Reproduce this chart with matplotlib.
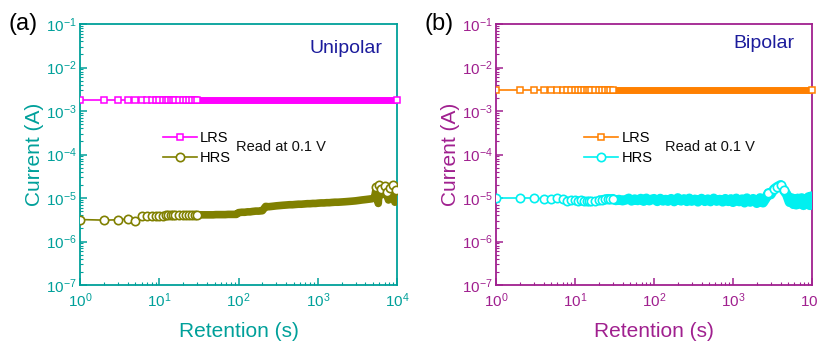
import matplotlib
matplotlib.use("Agg")
import matplotlib.pyplot as plt
from matplotlib.ticker import LogLocator, NullFormatter

plt.rcParams['font.family'] = ['Liberation Sans', 'DejaVu Sans']
plt.rcParams['mathtext.default'] = 'regular'

# ---- data ----
t = [1, 2, 3, 4, 5, 6, 7, 8, 9, 10,
     11, 12, 13, 14, 15, 16, 18, 20, 22, 24,
     26, 28, 30, 33, 36, 40, 44, 48, 52, 57,
     62, 68, 74, 80, 87, 94, 100, 110,
     120, 130, 140, 150, 165, 180, 200, 220, 240, 260, 280, 300, 330, 360, 400,
     440, 480, 520, 570, 620, 680, 740, 800, 870, 940, 1000, 1100, 1200, 1300,
     1400, 1500, 1650, 1800, 2000, 2200, 2400, 2600, 2800, 3000, 3300, 3600,
     4000, 4400, 4800, 5200, 5500, 5800, 6000, 6300, 6600, 7000, 7400, 7800,
     8200, 8600, 9000, 9400, 9800, 10000]

lrs_a = [1.8e-3] * len(t)
lrs_b = [3.0e-3] * len(t)

# HRS currents in microamperes
hrs_a_uA = [3.2, 3.1, 3.15, 3.3, 2.95, 3.8, 3.85, 3.9, 3.9, 3.95,
            3.95, 4.0, 4.0, 4.0, 4.0, 4.0, 4.0, 4.05, 4.05, 4.05,
            4.05, 4.05, 4.1, 4.1, 4.1, 4.1, 4.1, 4.1, 4.15, 4.15,
            4.15, 4.15, 4.2, 4.2, 4.2, 4.2, 4.6, 4.7,
            4.7, 4.8, 4.8, 4.9, 5.0, 5.0, 5.1, 6.4, 6.3, 6.4, 6.5, 6.6, 6.7, 6.8, 6.9,
            7.0, 7.0, 7.1, 7.2, 7.2, 7.3, 7.4, 7.4, 7.5, 7.5, 7.6, 7.7, 7.7, 7.8,
            7.8, 7.9, 8.0, 8.0, 8.1, 8.2, 8.3, 8.4, 8.5, 8.6, 8.8, 9.0,
            9.2, 9.4, 9.6, 10.0, 18.0, 7.5, 20.0, 16.0, 12.0, 19.0, 14.0, 9.0,
            17.0, 11.0, 20.0, 8.0, 15.0, 9.0]

hrs_b_uA = [10.0, 10.0, 10.0, 9.6, 9.7, 10.2, 9.5, 8.6, 8.8, 8.9,
            8.7, 8.8, 8.6, 8.7, 8.6, 8.5, 8.6, 8.8, 9.0, 9.3,
            9.6, 9.4, 9.6, 8.8, 9.2, 8.7, 9.1, 9.8, 8.6, 9.4,
            8.8, 9.7, 8.5, 9.8, 8.7, 9.3, 9.6, 8.4,
            9.7, 8.6, 9.2, 8.5, 9.6, 8.3, 10.0, 8.6, 9.5, 8.4, 9.8, 8.5, 9.3, 8.2, 9.7,
            8.4, 9.4, 8.3, 9.8, 8.5, 9.2, 8.2, 9.6, 8.4, 9.5, 8.0, 9.8, 8.3, 9.4,
            7.8, 9.9, 8.1, 9.6, 7.6, 10.0, 7.8, 9.8, 13.0, 12.0, 16.0, 18.0,
            20.0, 15.0, 12.0, 8.0, 10.0, 7.2, 9.6, 7.0, 9.8, 7.4, 10.0, 6.8,
            9.4, 7.2, 10.5, 6.8, 11.0, 7.0]

hrs_a = [v * 1e-6 for v in hrs_a_uA]
hrs_b = [v * 1e-6 for v in hrs_b_uA]

panels = [
    dict(label='(a)', title='Unipolar', axc='#00A09A', lrs=lrs_a, hrs=hrs_a,
         lrs_c='#FF00FF', hrs_c='#808000', left=80, width=317, band=5.5,
         title_xy=(0.953, 0.908), leg_x=0.262, read_x=0.492, spike=(5400, 1e9)),
    dict(label='(b)', title='Bipolar', axc='#A0208F', lrs=lrs_b, hrs=hrs_b,
         lrs_c='#FF8000', hrs_c='#00F0F0', left=496, width=316, band=7.0,
         title_xy=(0.946, 0.927), leg_x=0.28, read_x=0.535, spike=(2700, 4500)),
]

W, H = 817, 344
fig = plt.figure(figsize=(W / 100, H / 100), dpi=100)

early = [ti <= 30 for ti in t]
late_idx = [i for i, ti in enumerate(t) if ti >= 20]
t_late = [t[i] for i in late_idx]

for p in panels:
    ax = fig.add_axes([p['left'] / W, (H - 285) / H, p['width'] / W, 261 / H])
    ax.set_xscale('log')
    ax.set_yscale('log')
    ax.set_xlim(1, 1e4)
    ax.set_ylim(1e-7, 1e-1)
    c = p['axc']
    # LRS
    ax.plot(t_late, [p['lrs'][i] for i in late_idx], '-', color=p['lrs_c'],
            lw=5.0, solid_capstyle='butt', zorder=3)
    ax.plot(t, p['lrs'], '-s', color=p['lrs_c'], mfc='white', mec=p['lrs_c'],
            ms=4.5, mew=1.1, lw=1.2, label='LRS', markevery=early, zorder=4)
    ax.plot([t[-1]], [p['lrs'][-1]], 's', color=p['lrs_c'], mfc='white',
            ms=4.5, mew=1.1, clip_on=False, zorder=4)
    # HRS
    ax.plot(t_late, [p['hrs'][i] for i in late_idx], '-', color=p['hrs_c'],
            lw=p['band'], solid_joinstyle='round', solid_capstyle='butt', zorder=3)
    ax.plot(t, p['hrs'], '-o', color=p['hrs_c'], mfc='white', mec=p['hrs_c'],
            ms=6, mew=1.2, lw=1.2, label='HRS', markevery=early, zorder=4)
    lo, hi = p['spike']
    spike = [(lo <= ti <= hi) and (v > 1.25e-5) for ti, v in zip(t, p['hrs'])]
    ax.plot(t, p['hrs'], 'o', color=p['hrs_c'], mfc='white', mec=p['hrs_c'],
            ms=6, mew=1.2, markevery=spike, zorder=4)

    for s in ax.spines.values():
        s.set_color(c)
        s.set_linewidth(1.3)
    ax.tick_params(which='both', direction='in', colors=c, labelsize=11,
                   top=False, right=False)
    ax.tick_params(which='major', length=5, width=1.1)
    ax.tick_params(which='minor', length=2.5, width=0.8)
    ax.tick_params(axis='y', which='major', pad=2.5)
    ax.tick_params(axis='x', which='major', pad=4.5)
    ax.xaxis.set_major_locator(LogLocator(base=10, numticks=10))
    ax.yaxis.set_major_locator(LogLocator(base=10, numticks=10))
    ax.xaxis.set_minor_locator(LogLocator(base=10, subs=range(2, 10), numticks=20))
    ax.yaxis.set_minor_locator(LogLocator(base=10, subs=range(2, 10), numticks=20))
    ax.xaxis.set_minor_formatter(NullFormatter())
    ax.yaxis.set_minor_formatter(NullFormatter())
    ax.set_xlabel('Retention (s)', color=c, fontsize=15, labelpad=9)
    ax.set_ylabel('Current (A)', color=c, fontsize=15, labelpad=1)
    ax.text(p['title_xy'][0], p['title_xy'][1], p['title'], transform=ax.transAxes,
            ha='right', va='center', color='#1C1C9C', fontsize=14)
    ax.text(-0.225, 1.0, p['label'], transform=ax.transAxes, ha='left',
            va='center', color='black', fontsize=17)
    ax.legend(loc='center left', bbox_to_anchor=(p['leg_x'], 0.525), frameon=False,
              fontsize=10.5, handlelength=2.3, handletextpad=0.25,
              labelspacing=0.37, borderaxespad=0, borderpad=0)
    ax.text(p['read_x'], 0.529, 'Read at 0.1 V', transform=ax.transAxes, ha='left',
            va='center', color='#111111', fontsize=10.5)

fig.savefig('out.png', dpi=100)
